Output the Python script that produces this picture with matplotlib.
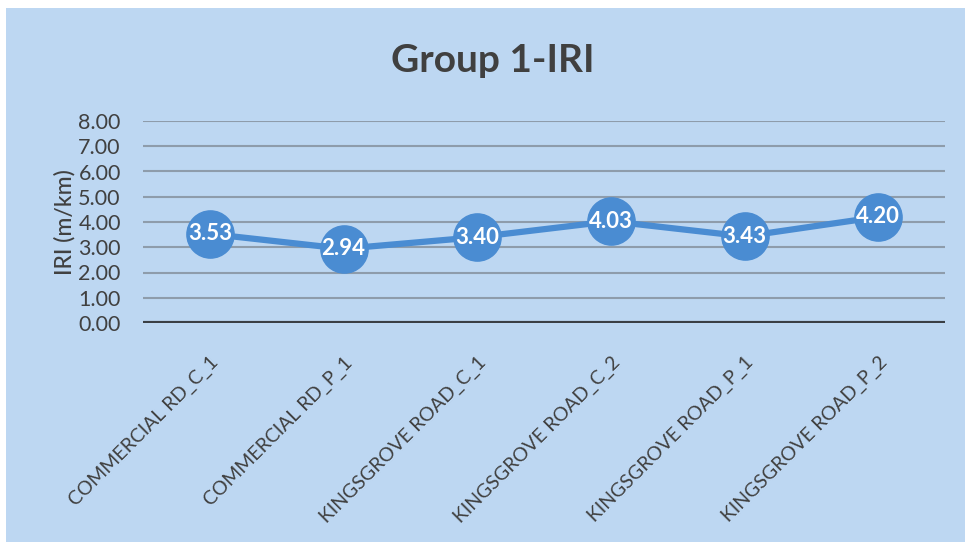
import numpy as np
import matplotlib.pyplot as plt
from matplotlib.patches import Rectangle

sections = ["COMMERCIAL RD_C_1", "COMMERCIAL RD_P_1", "KINGSGROVE ROAD_C_1",
            "KINGSGROVE ROAD_C_2", "KINGSGROVE ROAD_P_1", "KINGSGROVE ROAD_P_2"]
iri = [3.53, 2.94, 3.40, 4.03, 3.43, 4.20]
yticks = [0, 1, 2, 3, 4, 5, 6, 7, 8]

plt.rcParams['font.family'] = ['Lato', 'DejaVu Sans']

bg = '#bdd7f2'
txt = '#404040'
blue = '#4a8cd2'

fig = plt.figure(figsize=(9.65, 5.42), dpi=100, facecolor='white')
# chart area background (thin white margin at top and left)
fig.patches.append(Rectangle((6 / 965, 0), 1, 1 - 8 / 542, transform=fig.transFigure,
                             facecolor=bg, edgecolor='none', zorder=-10))
ax = fig.add_axes([143 / 965, 1 - 323 / 542, 802 / 965, 202 / 542])
ax.set_facecolor('none')

x = np.arange(len(sections))
ax.plot(x, iri, color=blue, linewidth=4.5, marker='o', markersize=34,
        markerfacecolor=blue, markeredgecolor=blue, zorder=3)
for xi, v in zip(x, iri):
    ax.text(xi, v, f"{v:.2f}", ha='center', va='center', color='white',
            fontsize=16, fontweight='bold', zorder=4)

ax.set_xlim(-0.5, len(sections) - 0.5)
ax.set_ylim(0, 8)
ax.set_yticks(yticks)
ax.set_yticklabels([f"{t:.2f}" for t in yticks], fontsize=15.5, color=txt)
ax.grid(axis='y', color='#8e9cab', linewidth=1.5)
ax.axhline(0, color='#3a3f45', linewidth=3, zorder=2)
for s in ax.spines.values():
    s.set_visible(False)
ax.tick_params(axis='y', length=0, pad=16)

ax.set_xticks(x)
ax.set_xticklabels(sections, rotation=45, ha='right', rotation_mode='anchor',
                   fontsize=14, color=txt)
ax.tick_params(axis='x', length=0, pad=22)

ax.set_ylabel('IRI (m/km)', fontsize=16.5, color=txt, fontweight='medium', labelpad=2)
fig.text(493 / 965, 1 - 60 / 542, 'Group 1-IRI', ha='center', va='center',
         fontsize=28, fontweight='bold', color=txt)

fig.savefig('out.png', dpi=100, facecolor='white')
